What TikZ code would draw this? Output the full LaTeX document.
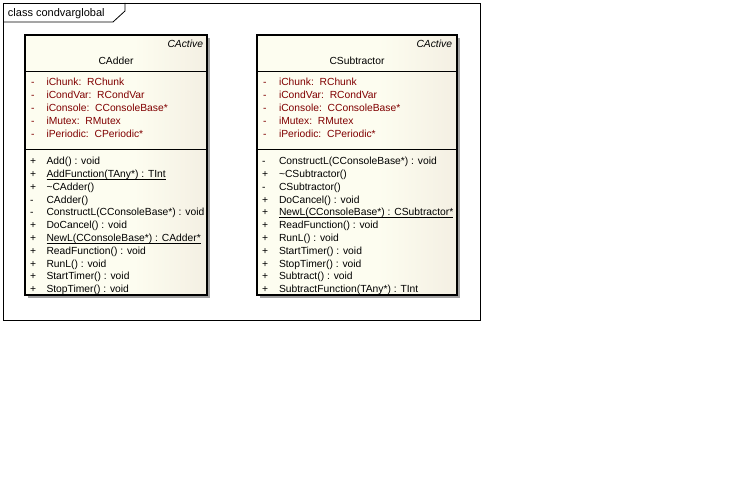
\documentclass[tikz,border=0pt]{standalone}
\usepackage{fontspec}
\setmainfont{Liberation Sans}
\definecolor{creamfill}{RGB}{253,253,240}
\definecolor{beigefill}{RGB}{232,222,210}
\definecolor{attrred}{RGB}{128,0,0}
\definecolor{shadowgray}{RGB}{160,160,160}
\pgfdeclarehorizontalshading{classfill}{100bp}{color(0bp)=(creamfill); color(55bp)=(creamfill); color(100bp)=(beigefill)}
\begin{document}
\begin{tikzpicture}[x=1pt,y=-1pt,
  every node/.style={inner sep=0pt, outer sep=0pt, font=\fontsize{10.3}{12}\selectfont},
  txt/.style={anchor=base west},
  attr/.style={anchor=base west, text=attrred},
  stereo/.style={anchor=base east, font=\fontsize{10.3}{12}\selectfont\itshape},
  ctitle/.style={anchor=base},
  classbox/.style={draw=black, line width=1.3pt, shading=classfill, anchor=north west, minimum height=260pt},
  sep/.style={draw=black, line width=1pt},
  frame/.style={draw=black, line width=0.8pt},
  uline/.style={draw=black, line width=0.7pt}
]
\useasboundingbox (0,0) rectangle (741,489);
\fill[white] (0,0) rectangle (741,489);
% frame
\draw[frame] (3,3) rectangle (480,320);
\draw[frame] (3,22) -- (113,22) -- (125,11) -- (125,3);
\node[txt, font=\fontsize{11}{12}\selectfont] (framelabel) at (8,17) {class condvarglobal};

% ---------------- CAdder
\fill[shadowgray] (28,38) rectangle (210,298);
\node[classbox, minimum width=182pt] (adder) at (25,35) {};
\node[stereo] (adderstereo) at (203,48) {CActive};
\node[ctitle] (addertitle) at (116,65) {CAdder};
\draw[sep] (25,72) -- (207,72);
\draw[sep] (25,150) -- (207,150);
\foreach \i/\y in {1/86,2/99,3/112,4/125,5/138}{
  \node[attr] (addersign\i) at (31,\y) {-};
}
\node[attr] (adderattr1) at (46.5,86) {iChunk:\ \ RChunk};
\node[attr] (adderattr2) at (46.5,99) {iCondVar:\ \ RCondVar};
\node[attr] (adderattr3) at (46.5,112) {iConsole:\ \ CConsoleBase*};
\node[attr] (adderattr4) at (46.5,125) {iMutex:\ \ RMutex};
\node[attr] (adderattr5) at (46.5,138) {iPeriodic:\ \ CPeriodic*};
\foreach \i/\s/\y in {1/+/164.7,2/+/177.5,3/+/190.3,4/-/203.1,5/-/215.9,6/+/228.7,7/+/241.5,8/+/254.3,9/+/267.1,10/+/279.9,11/+/292.7}{
  \node[txt] (adderopsign\i) at (30,\y) {\s};
}
\node[txt] (adderop1) at (46.5,164.7) {Add() : void};
\node[txt] (adderop2) at (46.5,177.5) {AddFunction(TAny*) : TInt};
\node[txt] (adderop3) at (46.5,190.3) {\textasciitilde CAdder()};
\node[txt] (adderop4) at (46.5,203.1) {CAdder()};
\node[txt] (adderop5) at (46.5,215.9) {ConstructL(CConsoleBase*) : void};
\node[txt] (adderop6) at (46.5,228.7) {DoCancel() : void};
\node[txt] (adderop7) at (46.5,241.5) {NewL(CConsoleBase*) : CAdder*};
\node[txt] (adderop8) at (46.5,254.3) {ReadFunction() : void};
\node[txt] (adderop9) at (46.5,267.1) {RunL() : void};
\node[txt] (adderop10) at (46.5,279.9) {StartTimer() : void};
\node[txt] (adderop11) at (46.5,292.7) {StopTimer() : void};
\draw[uline] ([yshift=-1.6pt]adderop2.base west) -- ([yshift=-1.6pt]adderop2.base east);
\draw[uline] ([yshift=-1.6pt]adderop7.base west) -- ([yshift=-1.6pt]adderop7.base east);

% ---------------- CSubtractor
\fill[shadowgray] (260,38) rectangle (460,298);
\node[classbox, minimum width=200pt] (sub) at (257,35) {};
\node[stereo] (substereo) at (452,48) {CActive};
\node[ctitle] (subtitle) at (357,65) {CSubtractor};
\draw[sep] (257,72) -- (457,72);
\draw[sep] (257,150) -- (457,150);
\foreach \i/\y in {1/86,2/99,3/112,4/125,5/138}{
  \node[attr] (subsign\i) at (263,\y) {-};
}
\node[attr] (subattr1) at (279,86) {iChunk:\ \ RChunk};
\node[attr] (subattr2) at (279,99) {iCondVar:\ \ RCondVar};
\node[attr] (subattr3) at (279,112) {iConsole:\ \ CConsoleBase*};
\node[attr] (subattr4) at (279,125) {iMutex:\ \ RMutex};
\node[attr] (subattr5) at (279,138) {iPeriodic:\ \ CPeriodic*};
\foreach \i/\s/\y in {1/-/164.7,2/+/177.5,3/-/190.3,4/+/203.1,5/+/215.9,6/+/228.7,7/+/241.5,8/+/254.3,9/+/267.1,10/+/279.9,11/+/292.7}{
  \node[txt] (subopsign\i) at (262,\y) {\s};
}
\node[txt] (subop1) at (279,164.7) {ConstructL(CConsoleBase*) : void};
\node[txt] (subop2) at (279,177.5) {\textasciitilde CSubtractor()};
\node[txt] (subop3) at (279,190.3) {CSubtractor()};
\node[txt] (subop4) at (279,203.1) {DoCancel() : void};
\node[txt] (subop5) at (279,215.9) {NewL(CConsoleBase*) : CSubtractor*};
\node[txt] (subop6) at (279,228.7) {ReadFunction() : void};
\node[txt] (subop7) at (279,241.5) {RunL() : void};
\node[txt] (subop8) at (279,254.3) {StartTimer() : void};
\node[txt] (subop9) at (279,267.1) {StopTimer() : void};
\node[txt] (subop10) at (279,279.9) {Subtract() : void};
\node[txt] (subop11) at (279,292.7) {SubtractFunction(TAny*) : TInt};
\draw[uline] ([yshift=-1.6pt]subop5.base west) -- ([yshift=-1.6pt]subop5.base east);
\draw[uline] ([yshift=-1.6pt]subop11.base west) -- ([yshift=-1.6pt]subop11.base east);
\end{tikzpicture}
\end{document}
